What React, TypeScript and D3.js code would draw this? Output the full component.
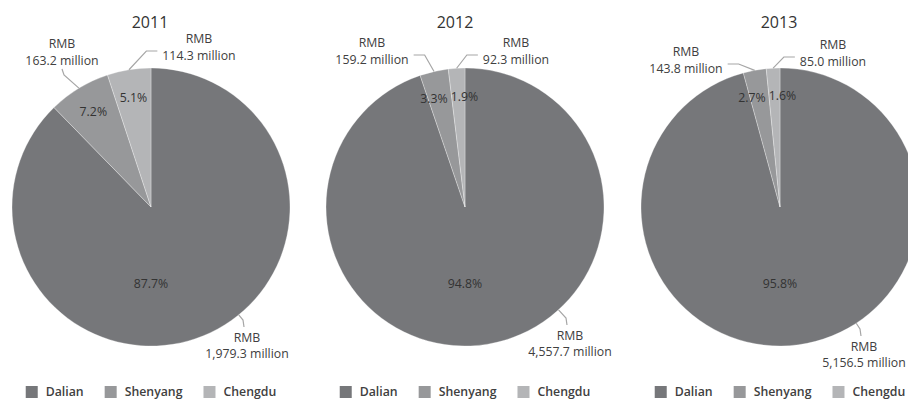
import React from 'react';
import * as d3 from 'd3';

// ---- data ----
const years = ['2011', '2012', '2013'];
const cities = ['Dalian', 'Shenyang', 'Chengdu'];
const dalian = [1979.3, 4557.7, 5156.5];
const shenyang = [163.2, 159.2, 143.8];
const chengdu = [114.3, 92.3, 85.0];
const currencyPrefix = 'RMB';
const unitSuffix = 'million';

// ---- layout / style ----
const W = 908;
const H = 399;
const PIE_CX = [151, 465, 780];
const TITLE_X = [150, 455, 779];
const CY = 207;
const R = 139;
const FONT = '"Open Sans", "Noto Sans", sans-serif';
const LABEL_SIZE = 12.3;
const COLORS = ['#76777a', '#97989a', '#b4b5b7'];
const LEADER = '#a6a6a6';
const LABEL_LAYOUT = [
  [{ type: 'bottom', dx: 96, dy: 130 }, { type: 'top', dx: -89, dy: -147 }, { type: 'right', dx: 48, dy: -152 }],
  [{ type: 'bottom', dx: 105, dy: 128 }, { type: 'left', dx: -93, dy: -148 }, { type: 'right', dx: 51, dy: -148 }],
  [{ type: 'bottom', dx: 84, dy: 139 }, { type: 'left', dx: -94, dy: -139 }, { type: 'right', dx: 53, dy: -146 }],
];

let ctx: CanvasRenderingContext2D | null = null;
function measure(text: string, size: number, weight = 400) {
  if (!ctx) ctx = document.createElement('canvas').getContext('2d');
  if (!ctx) return text.length * size * 0.55;
  ctx.font = `${weight} ${size}px ${FONT}`;
  return ctx.measureText(text).width;
}

const fmtVal = d3.format(',.1f');
const fmtPct = d3.format('.1%');

function Panel({ idx }: { idx: number }) {
  const cx = PIE_CX[idx];
  const values = [dalian[idx], shenyang[idx], chengdu[idx]];
  const pie = d3.pie<number>().sort(null).value((d) => d)(values);
  const arc = d3.arc<d3.PieArcDatum<number>>().innerRadius(0).outerRadius(R);
  const total = d3.sum(values);
  const color = d3.scaleOrdinal<string, string>().domain(cities).range(COLORS);

  // percentage labels
  const pctPos = pie.map((p) => {
    const span = p.endAngle - p.startAngle;
    if (span > Math.PI) return { x: 0, y: R * 0.55 };
    const a = (p.startAngle + p.endAngle) / 2;
    const k = 0.8;
    return { x: Math.sin(a) * R * k, y: -Math.cos(a) * R * k };
  });
  // resolve overlap between small labels
  const small = pie.map((p, i) => i).filter((i) => pie[i].endAngle - pie[i].startAngle <= Math.PI);
  if (small.length === 2) {
    const [a, b] = small;
    const wa = measure(fmtPct(values[a] / total), LABEL_SIZE);
    const wb = measure(fmtPct(values[b] / total), LABEL_SIZE);
    const need = (wa + wb) / 2 + 3;
    const dist = Math.abs(pctPos[a].x - pctPos[b].x);
    if (dist < need) {
      const mid = (pctPos[a].x + pctPos[b].x) / 2;
      const sign = pctPos[a].x < pctPos[b].x ? -1 : 1;
      pctPos[a].x = mid + (sign * need) / 2;
      pctPos[b].x = mid - (sign * need) / 2;
    }
  }

  const lineGap = 16.5;

  const outer = pie.map((p, i) => {
    const lay = LABEL_LAYOUT[idx][i];
    const line2 = `${fmtVal(values[i])} ${unitSuffix}`;
    const w2 = measure(line2, LABEL_SIZE);
    const lx = lay.dx;
    let y1: number, y2: number;
    let pts: [number, number][] = [];
    const mid = (p.startAngle + p.endAngle) / 2;
    const edgeMid: [number, number] = [Math.sin(mid) * R, -Math.cos(mid) * R];
    if (lay.type === 'bottom') {
      y1 = lay.dy;
      y2 = lay.dy + lineGap;
      const end: [number, number] = [lx - 3, y1 - 10];
      const elbow: [number, number] = [end[0] - 1, end[1] - 7];
      const len = Math.hypot(elbow[0], elbow[1]);
      const start: [number, number] = [(elbow[0] / len) * R, (elbow[1] / len) * R];
      pts = [start, elbow, end];
    } else if (lay.type === 'top') {
      y2 = lay.dy;
      y1 = lay.dy - lineGap;
      const end: [number, number] = [lx, y2 + 9];
      const elbow: [number, number] = [lx + 2, y2 + 15];
      pts = [edgeMid, elbow, end];
    } else {
      y2 = lay.dy;
      y1 = lay.dy - lineGap;
      const ly = y2 - 4;
      const s = lay.type === 'right' ? -1 : 1;
      const edge = lx + (s * w2) / 2;
      const end: [number, number] = [edge + s * 5, ly];
      const elbow: [number, number] = [end[0] + s * 11, ly];
      pts = [edgeMid, elbow, end];
    }
    return { y1, y2, lx, line2, pts };
  });

  // legend
  const sq = 12;
  const gapSq = 8;
  const gapItem = 21;
  const LEG_SIZE = 12.3;
  const widths = cities.map((c) => measure(c, LEG_SIZE, 600));
  const total_w = d3.sum(widths) + cities.length * (sq + gapSq) + (cities.length - 1) * gapItem;
  let xCursor = cx - total_w / 2;
  const legendItems = cities.map((c, i) => {
    const item = { c, x: xCursor };
    xCursor += sq + gapSq + widths[i] + gapItem;
    return item;
  });

  const line = d3.line();

  return (
    <g>
      <text x={TITLE_X[idx]} y={22} textAnchor="middle" dominantBaseline="central" fontSize={16} fill="#333" fontFamily={FONT}>
        {years[idx]}
      </text>
      <g transform={`translate(${cx},${CY})`}>
        {pie.map((p, i) => (
          <path key={i} d={arc(p) || ''} fill={color(cities[i])} stroke="#ffffff" strokeWidth={0.3} />
        ))}
        {pie.map((p, i) => (
          <text key={'p' + i} x={pctPos[i].x} y={pctPos[i].y} textAnchor="middle" dominantBaseline="central" fontSize={LABEL_SIZE} fill="#333" fontFamily={FONT}>
            {fmtPct(values[i] / total)}
          </text>
        ))}
        {outer.map((o, i) => (
          <g key={'o' + i}>
            <path d={line(o.pts) || ''} fill="none" stroke={LEADER} strokeWidth={1.2} />
            <text x={o.lx} y={o.y1} textAnchor="middle" dominantBaseline="central" fontSize={LABEL_SIZE} fill="#404040" fontFamily={FONT}>
              {currencyPrefix}
            </text>
            <text x={o.lx} y={o.y2} textAnchor="middle" dominantBaseline="central" fontSize={LABEL_SIZE} fill="#404040" fontFamily={FONT}>
              {o.line2}
            </text>
          </g>
        ))}
      </g>
      {legendItems.map((it, i) => (
        <g key={'l' + i}>
          <rect x={it.x} y={386} width={sq} height={sq} fill={COLORS[i]} />
          <text x={it.x + sq + gapSq} y={391.5} dominantBaseline="central" fontSize={LEG_SIZE} fontWeight={600} fill="#404040" fontFamily={FONT}>
            {it.c}
          </text>
        </g>
      ))}
    </g>
  );
}

export default function App() {
  return (
    <svg width={W} height={H} viewBox={`0 0 ${W} ${H}`} style={{ position: 'absolute', left: 0, top: 0, display: 'block', background: '#fff' }}>
      <rect width={W} height={H} fill="#fff" />
      {years.map((y, i) => (
        <Panel key={y} idx={i} />
      ))}
    </svg>
  );
}
